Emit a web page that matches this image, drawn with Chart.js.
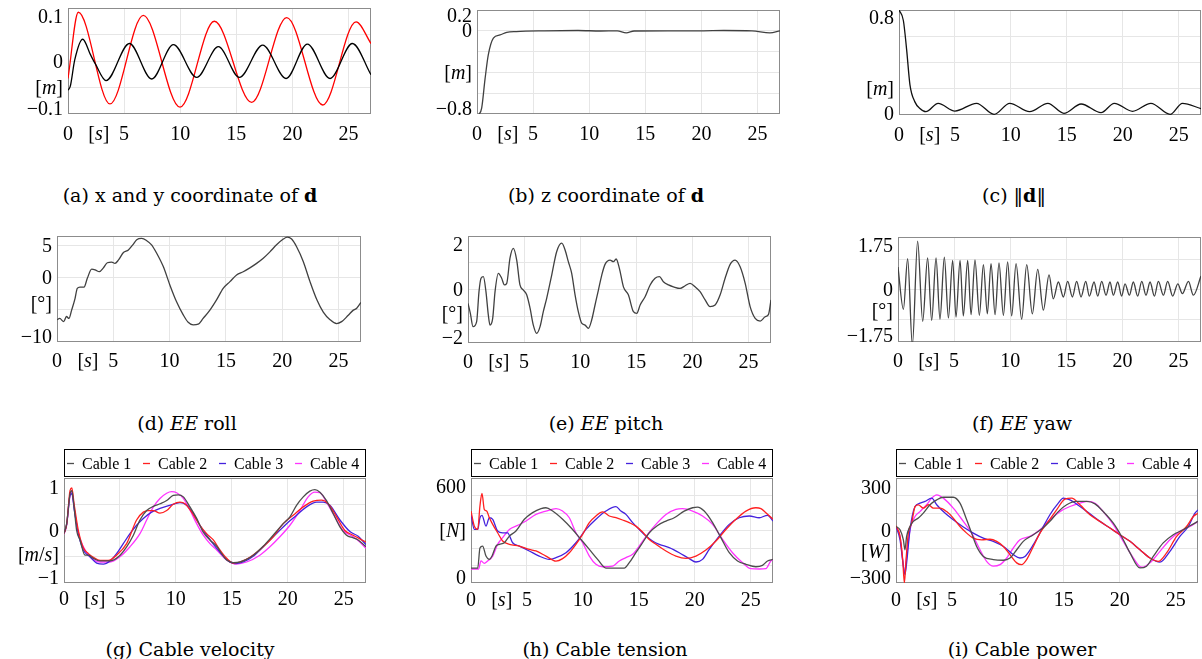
<!DOCTYPE html>
<html>
<head>
<meta charset="utf-8">
<script src="https://cdn.jsdelivr.net/npm/chart.js@4.4.1/dist/chart.umd.min.js"></script>
<style>
  html, body { margin: 0; padding: 0; background: #fff; }
  #page { position: relative; width: 1202px; height: 659px; overflow: hidden; }
  #page canvas { position: absolute; left: 0; top: 0; }
  .cap { position: absolute; transform: translate(-50%, -50%); font-family: "DejaVu Serif", serif;
         font-size: 19px; white-space: nowrap; color: #000; }
</style>
</head>
<body>
<div id="page">
  <div class="cap" style="left:190px;top:195px">(a) x and y coordinate of <b>d</b></div>
  <div class="cap" style="left:606px;top:195px">(b) z coordinate of <b>d</b></div>
  <div class="cap" style="left:1014px;top:195px">(c) ‖<b>d</b>‖</div>
  <div class="cap" style="left:187px;top:423px">(d) <i>EE</i> roll</div>
  <div class="cap" style="left:606px;top:423px">(e) <i>EE</i> pitch</div>
  <div class="cap" style="left:1022px;top:423px">(f) <i>EE</i> yaw</div>
  <div class="cap" style="left:190px;top:649px">(g) Cable velocity</div>
  <div class="cap" style="left:605px;top:649px">(h) Cable tension</div>
  <div class="cap" style="left:1022px;top:649px">(i) Cable power</div>
</div>
<script>
// ---- shared axis values ----
const xTicks = [0, 5, 10, 15, 20, 25];
const xGrid = [5, 10, 15, 20, 25];
const cableLabels = ['Cable 1', 'Cable 2', 'Cable 3', 'Cable 4'];

// (a) x and y coordinate of d
const aYTicks = [-0.1, 0, 0.1];
const aT1 = [0, 0.2, 0.6, 1.31, 2.0, 2.45, 3.39, 5.47, 7.46, 9.39, 11.47, 13.4, 15.27, 17.35, 19.43, 21.33, 23.35, 25.34, 27];
const aV1 = [-0.055, -0.048, 0.002, 0.041, 0.012, -0.006, -0.037, 0.033, -0.034, 0.031, -0.031, 0.027, -0.031, 0.030, -0.033, 0.032, -0.033, 0.033, -0.026];
const aT2 = [0, 0.92, 3.74, 6.71, 9.98, 13.04, 16.37, 19.49, 22.7, 25.67, 27];
const aV2 = [-0.033, 0.092, -0.081, 0.086, -0.087, 0.075, -0.078, 0.082, -0.083, 0.074, 0.033];

// (b) z coordinate of d
const bYTicks = [-0.8, 0, 0.2];
const bT = [0, 0.12, 0.42, 0.72, 1.01, 1.46, 2.05, 2.65, 3.5, 6, 9, 11, 12.5, 13.3, 14, 17, 20, 22, 24.5, 26.1, 27];
const bZ = [-0.82, -0.81, -0.74, -0.46, -0.23, -0.07, -0.04, -0.015, -0.007, 0.0, 0.003, -0.002, 0.0, -0.02, -0.002, 0.0, 0.0, 0.003, 0.0, -0.02, 0.0];

// (c) norm of d
const cYTicks = [0, 0.8];
const cT = [0, 0.39, 0.68, 0.98, 1.42, 1.87, 2.40, 3.5, 5.0, 6.93, 8.5, 9.9, 11.68, 13.31, 14.74, 16.28, 18.06, 19.25, 20.88, 22.52, 24.24, 25.34, 27];
const cD = [0.8, 0.72, 0.5, 0.23, 0.10, 0.05, 0.025, 0.089, 0.03, 0.089, 0.005, 0.089, 0.025, 0.089, 0.013, 0.084, 0.018, 0.089, 0.028, 0.089, 0.005, 0.089, 0.048];

// (d) EE roll
const dYTicks = [-10, 0, 5];
const dT = [0, 0.24, 0.6, 0.84, 1.06, 1.3, 1.6, 1.8, 2.04, 2.4, 2.7, 3.08, 3.38, 3.76, 4.12, 4.47, 4.86, 5.15, 5.45, 5.9,
  6.34, 6.73, 7.08, 7.52, 7.97, 8.4, 8.85, 9.44, 10.03, 10.62, 11.2, 11.65, 12.1, 12.54, 12.98, 13.58, 14.17, 14.76, 15.36, 15.95,
  16.54, 17.13, 17.73, 18.32, 18.91, 19.5, 20.1, 20.45, 20.84, 21.28, 21.87, 22.47, 23.06, 23.65, 24.25, 24.84, 25.28, 25.87, 26.32, 26.62, 27];
const dRoll = [-6.6, -6.4, -6.9, -6.1, -6.4, -5.1, -3.3, -1.7, -1.5, -1.5, -0.1, 1.3, 1.2, 0.9, 1.5, 2.3, 2.4, 2.2, 2.7, 3.9,
  4.3, 5.1, 5.9, 6.1, 5.75, 5.1, 3.8, 1.7, -1.2, -3.8, -5.8, -7.0, -7.4, -7.3, -6.4, -5.1, -3.5, -1.7, -0.65, 0.4,
  0.9, 1.5, 2.2, 3.0, 4.0, 5.1, 6.0, 6.3, 6.0, 4.8, 2.5, -0.65, -3.4, -5.4, -6.6, -7.2, -6.9, -5.9, -5.1, -4.8, -3.9];

// (e) EE pitch
const eYTicks = [-2, 0, 2];
const eT = [0, 0.21, 0.45, 0.77, 0.98, 1.16, 1.37, 1.6, 1.81, 1.96, 2.2, 2.41, 2.7, 3.0, 3.24, 3.45, 3.74, 4.04, 4.34, 4.63,
  4.93, 5.23, 5.53, 5.82, 6.12, 6.42, 6.71, 7.01, 7.46, 7.9, 8.35, 8.65, 8.94, 9.24, 9.54, 9.83, 10.13, 10.43, 10.73, 11.02,
  11.32, 11.62, 11.92, 12.21, 12.66, 12.96, 13.2, 13.49, 13.85, 14.29, 14.74, 15.04, 15.34, 15.78, 16.23, 16.67, 17.06, 17.41, 17.86, 18.31,
  18.9, 19.35, 19.79, 20.24, 20.68, 21.13, 21.57, 22.02, 22.47, 22.91, 23.36, 23.8, 24.25, 24.7, 25.14, 25.59, 26.04, 26.48, 26.78, 27];
const ePitch = [-0.52, -0.89, -1.39, -1.2, -0.08, 0.42, 0.48, -0.08, -0.95, -1.33, -1.08, -0.08, 0.6, 0.42, 0.17, 0.23, 1.17, 1.54, 1.1, 0.17,
  -0.02, -0.2, -0.7, -1.33, -1.64, -1.39, -0.83, -0.33, 0.54, 1.41, 1.73, 1.48, 1.04, 0.6, -0.2, -0.83, -1.26, -1.33, -1.45, -1.14,
  -0.58, -0.02, 0.54, 0.94, 1.1, 1.04, 1.14, 0.79, 0.1, -0.2, -0.83, -0.89, -0.58, -0.27, 0.17, 0.42, 0.48, 0.29, 0.17, 0.1,
  0.04, 0.14, 0.23, 0.1, -0.08, -0.39, -0.64, -0.58, -0.2, 0.42, 0.94, 1.1, 0.85, 0.23, -0.64, -1.08, -1.18, -1.02, -0.93, -0.39];

// (f) EE yaw (peaks and troughs)
const fYTicks = [-1.75, 0, 1.75];
const fT = [0, 0.48, 0.86, 1.28, 1.75, 2.20, 2.64, 3.0, 3.39, 3.74, 4.13, 4.49, 4.87, 5.17, 5.53, 5.82, 6.21, 6.51, 6.86, 7.25,
  7.61, 7.96, 8.29, 8.65, 9.0, 9.39, 9.77, 10.13, 10.52, 11.02, 11.47, 11.97, 12.45, 12.95, 13.46, 13.84, 14.29, 14.74, 15.12, 15.54,
  15.92, 16.31, 16.73, 17.05, 17.47, 17.80, 18.15, 18.54, 18.89, 19.19, 19.58, 19.93, 20.23, 20.62, 20.97, 21.36, 21.72, 22.10, 22.46, 22.85,
  23.20, 23.65, 24.03, 24.48, 24.93, 25.34, 25.88, 26.32, 27];
const fYaw = [0.75, -0.66, 1.03, -1.85, 1.61, -1.06, 1.05, -1.03, 1.05, -0.99, 1.08, -0.95, 0.97, -0.92, 0.97, -0.88, 0.97, -0.84, 0.99, -0.86,
  0.83, -0.81, 0.86, -0.84, 0.89, -0.86, 0.92, -0.88, 0.86, -0.99, 0.83, -0.81, 0.67, -0.69, 0.49, -0.31, 0.25, -0.25, 0.27, -0.25,
  0.27, -0.25, 0.27, -0.22, 0.25, -0.22, 0.27, -0.19, 0.25, -0.19, 0.25, -0.22, 0.19, -0.19, 0.25, -0.22, 0.27, -0.19, 0.25, -0.22,
  0.27, -0.19, 0.27, -0.22, 0.19, -0.14, 0.27, -0.19, 0.45];

// (g) cable velocity
const gYTicks = [-1, 0, 1];
const gT1 = [0, 0.24, 0.54, 0.7, 0.9, 1.13, 1.43, 1.88, 2.18, 2.62, 3.22, 4.11, 4.86, 5.6, 6.2, 6.79, 7.39, 7.99, 8.58, 9.18,
  9.77, 10.22, 10.67, 11.26, 11.86, 12.45, 13.05, 13.65, 14.09, 14.54, 15.13, 15.73, 16.32, 16.92, 17.81, 18.7, 19.6, 20.2, 20.79, 21.39,
  21.98, 22.43, 22.88, 23.47, 24.07, 24.67, 25.26, 25.86, 26.3, 27];
const gV1 = [-0.06, 0.13, 0.70, 0.76, 0.45, 0.0, -0.18, -0.47, -0.47, -0.53, -0.58, -0.58, -0.50, -0.31, -0.09, 0.2, 0.38, 0.46, 0.51, 0.57,
  0.67, 0.68, 0.64, 0.45, 0.23, -0.03, -0.18, -0.30, -0.44, -0.56, -0.61, -0.60, -0.55, -0.47, -0.30, -0.09, 0.13, 0.26, 0.48, 0.64,
  0.75, 0.78, 0.73, 0.57, 0.32, 0.07, -0.09, -0.14, -0.18, -0.31];
const gT2 = [0, 0.24, 0.54, 0.70, 0.9, 1.28, 1.73, 2.18, 2.62, 3.22, 3.96, 4.7, 5.6, 6.49, 7.09, 7.54, 7.99, 8.58, 9.18, 9.77,
  10.37, 10.82, 11.41, 12.15, 12.75, 13.35, 13.94, 14.54, 15.13, 15.73, 16.62, 17.81, 18.7, 19.6, 20.49, 21.39, 22.28, 23.02, 23.62, 24.37,
  25.11, 25.86, 26.45, 27];
const gV2 = [-0.06, 0.12, 0.76, 0.81, 0.51, 0.0, -0.33, -0.44, -0.51, -0.57, -0.57, -0.47, -0.25, 0.2, 0.35, 0.38, 0.38, 0.33, 0.38, 0.5,
  0.54, 0.51, 0.35, 0.10, -0.06, -0.18, -0.37, -0.53, -0.62, -0.60, -0.51, -0.31, -0.12, 0.13, 0.29, 0.45, 0.56, 0.58, 0.51, 0.26,
  0.0, -0.09, -0.16, -0.22];
const gT3 = [0, 0.24, 0.54, 0.70, 0.93, 1.28, 1.73, 2.32, 2.92, 3.52, 4.11, 4.7, 5.3, 5.9, 6.49, 7.09, 7.83, 8.58, 9.47, 10.37,
  10.96, 11.56, 12.15, 12.75, 13.65, 14.54, 15.28, 16.02, 16.92, 17.81, 19.0, 19.9, 20.79, 21.68, 22.58, 23.17, 23.77, 24.67, 25.56, 26.3, 27];
const gV3 = [-0.05, 0.12, 0.67, 0.70, 0.38, -0.06, -0.37, -0.5, -0.62, -0.64, -0.58, -0.44, -0.25, -0.06, 0.1, 0.23, 0.35, 0.42, 0.48, 0.53,
  0.48, 0.32, 0.1, -0.09, -0.34, -0.55, -0.63, -0.6, -0.49, -0.31, -0.06, 0.13, 0.29, 0.45, 0.54, 0.54, 0.48, 0.2, -0.02, -0.11, -0.27];
const gT4 = [0, 0.24, 0.54, 0.70, 0.9, 1.22, 1.73, 2.32, 3.22, 4.11, 5.0, 5.9, 6.79, 7.39, 7.99, 8.58, 9.18, 9.62, 10.07, 10.67,
  11.26, 11.86, 12.45, 13.05, 13.65, 14.54, 15.43, 16.32, 17.51, 18.41, 19.3, 20.2, 21.09, 21.83, 22.43, 22.88, 23.47, 24.22, 24.96, 25.86,
  26.45, 27];
const gV4 = [-0.07, 0.1, 0.67, 0.73, 0.45, 0.0, -0.31, -0.5, -0.6, -0.6, -0.5, -0.31, -0.06, 0.2, 0.45, 0.61, 0.71, 0.74, 0.72, 0.61,
  0.39, 0.13, -0.09, -0.25, -0.37, -0.56, -0.64, -0.6, -0.47, -0.31, -0.12, 0.1, 0.38, 0.64, 0.73, 0.72, 0.54, 0.26, 0.0, -0.12,
  -0.22, -0.34];

// (h) cable tension
const hYTicks = [0, 600];
const hT1 = [0, 0.6, 0.8, 1.04, 1.34, 1.64, 1.88, 2.23, 2.53, 2.98, 3.43, 4.02, 4.77, 5.51, 6.26, 6.7, 7.3, 8.19, 9.08, 9.83,
  10.58, 11.32, 12.06, 13.7, 14.15, 14.74, 15.34, 15.94, 16.68, 17.43, 18.17, 19.06, 19.81, 20.26, 20.85, 21.6, 22.34, 23.09, 23.83, 24.58,
  25.47, 26.06, 26.51, 27];
const hN1 = [85, 85, 200, 211, 154, 135, 154, 211, 221, 230, 268, 297, 364, 402, 425, 430, 411, 364, 306, 249,
  192, 135, 85, 85, 116, 173, 230, 287, 329, 354, 373, 411, 430, 434, 411, 345, 259, 173, 126, 107,
  93, 101, 126, 135];
const hT2 = [0, 0.3, 0.6, 0.8, 0.98, 1.19, 1.4, 1.64, 1.94, 2.38, 2.83, 3.43, 4.32, 5.21, 5.81, 6.7, 7.6, 8.19, 8.79, 9.38,
  9.98, 10.58, 11.17, 11.77, 12.36, 12.96, 13.55, 14.15, 14.74, 15.34, 15.94, 16.53, 17.43, 18.32, 19.22, 20.11, 21.0, 21.9, 22.79, 23.68,
  24.58, 25.47, 25.92, 26.36, 27];
const hN2 = [411, 325, 306, 440, 512, 420, 411, 373, 335, 287, 240, 221, 211, 192, 183, 154, 125, 139, 173, 221,
  278, 345, 383, 406, 383, 373, 360, 345, 325, 291, 249, 221, 183, 154, 141, 154, 188, 240, 306, 364,
  411, 430, 425, 402, 364];
const hT3 = [0, 0.3, 0.6, 0.8, 0.98, 1.34, 1.64, 1.94, 2.38, 2.83, 3.27, 3.72, 4.32, 5.21, 6.1, 7.0, 7.6, 8.49, 9.38, 10.28,
  11.17, 12.06, 12.96, 13.4, 13.85, 14.45, 15.04, 15.64, 16.23, 16.83, 17.72, 18.62, 19.51, 20.11, 20.7, 21.3, 22.19, 23.09, 23.98, 24.88,
  25.77, 26.51, 27];
const hN3 = [392, 306, 306, 373, 387, 325, 373, 364, 297, 287, 287, 230, 211, 183, 154, 135, 145, 173, 230, 306,
  364, 411, 436, 411, 392, 345, 306, 268, 240, 221, 202, 173, 139, 120, 135, 192, 268, 335, 373, 383,
  373, 387, 354];
const hT4 = [0, 0.68, 0.89, 1.19, 1.49, 1.94, 2.38, 2.83, 3.43, 4.17, 4.92, 5.81, 6.7, 7.6, 8.19, 8.79, 9.38, 9.98, 10.58, 11.17,
  11.77, 12.66, 13.26, 13.85, 14.45, 15.04, 15.79, 16.53, 17.43, 18.32, 18.92, 19.81, 20.7, 21.6, 22.49, 23.38, 24.28, 25.02, 25.77, 26.36,
  26.8, 27];
const hN4 = [80, 80, 126, 112, 126, 154, 221, 259, 306, 329, 354, 392, 411, 425, 411, 373, 287, 230, 154, 107,
  93, 97, 126, 145, 164, 211, 278, 335, 392, 421, 425, 411, 383, 335, 249, 173, 116, 82, 80, 82,
  126, 135];

// (i) cable power
const iYTicks = [-300, 0, 300];
const iT1 = [0, 0.36, 0.66, 0.80, 0.95, 1.25, 1.55, 2.0, 2.44, 3.04, 3.64, 4.23, 5.12, 5.72, 6.32, 6.76, 7.21, 7.81, 8.7, 9.6,
  10.19, 10.79, 11.38, 12.28, 13.02, 13.76, 14.51, 15.26, 16.15, 17.04, 17.79, 18.53, 19.43, 20.17, 20.92, 21.81, 22.4, 23.0, 23.89, 24.79,
  25.68, 26.28, 27];
const iP1 = [23, 4, -53, -110, -34, 23, 52, 71, 99, 147, 175, 190, 190, 156, 61, -15, -91, -148, -166, -170,
  -157, -110, -62, -24, 8, 52, 108, 147, 166, 166, 152, 108, 42, -34, -128, -214, -204, -148, -71, -24,
  4, 27, 52];
const iT2 = [0, 0.36, 0.6, 0.75, 0.9, 1.1, 1.4, 1.7, 2.0, 2.44, 2.9, 3.34, 3.94, 4.53, 5.12, 5.72, 6.32, 6.91, 7.66, 8.4,
  9.0, 9.6, 10.19, 10.79, 11.23, 11.68, 12.28, 12.87, 13.62, 14.36, 15.1, 15.7, 16.45, 17.34, 18.23, 19.13, 20.02, 20.92, 21.81, 22.7,
  23.45, 24.19, 25.09, 25.98, 26.58, 27];
const iP2 = [27, -34, -166, -300, -166, -15, 42, 137, 147, 128, 147, 128, 128, 108, 71, 23, -15, -44, -53, -50,
  -62, -91, -138, -185, -195, -166, -91, -15, 52, 118, 179, 185, 147, 90, 52, 14, -24, -62, -110, -157,
  -176, -128, -34, 23, 80, 99];
const iT3 = [0, 0.36, 0.66, 0.8, 0.95, 1.25, 1.7, 2.14, 2.59, 3.19, 3.64, 4.23, 5.12, 6.02, 6.91, 7.81, 8.7, 9.6, 10.49, 11.08,
  11.53, 12.28, 13.02, 13.76, 14.51, 14.95, 15.55, 16.45, 17.34, 18.23, 19.13, 20.02, 20.92, 21.81, 22.7, 23.6, 24.49, 25.38, 26.13, 26.73, 27];
const iP3 = [23, -53, -204, -252, -185, 4, 137, 156, 166, 185, 147, 108, 61, 20, -15, -44, -62, -91, -138, -157,
  -148, -81, 4, 90, 156, 185, 175, 137, 95, 52, 14, -24, -62, -110, -157, -181, -119, -34, 23, 99, 118];
const iT4 = [0, 0.36, 0.66, 0.8, 0.95, 1.25, 1.7, 2.14, 2.74, 3.19, 3.64, 4.23, 5.12, 6.02, 6.76, 7.51, 8.1, 8.7, 9.3, 9.9,
  10.49, 11.08, 11.98, 12.87, 13.76, 14.66, 15.55, 16.45, 17.19, 17.79, 18.53, 19.43, 20.32, 21.22, 21.96, 22.7, 23.6, 24.49, 25.38, 26.28, 27];
const iP4 = [19, -34, -204, -242, -148, 4, 80, 108, 147, 185, 204, 185, 128, 52, -15, -110, -176, -204, -195, -157,
  -100, -53, -34, 4, 61, 108, 137, 156, 166, 156, 108, 33, -62, -157, -210, -185, -119, -53, -5, 23, 52];

// ---- styling ----
const W = 1202, H = 659;
const gridColor = '#e6e6e6';
const frameColor = '#8c8c8c';
const dark = '#404040';
const cableColors = ['#4d4d4d', '#ff2020', '#4422dd', '#ff33ff'];
const TICK_PX = 20;

function fmt(v) { return v < 0 ? '\u2212' + String(-v) : String(v); }

// draws text with latin letters in italic (math style units), digits/brackets upright
function drawMath(ctx, str, x, y, align) {
  const runs = [];
  for (const ch of str) {
    const it = /[A-Za-z]/.test(ch);
    if (runs.length && runs[runs.length - 1][1] === it) runs[runs.length - 1][0] += ch;
    else runs.push([ch, it]);
  }
  const fonts = runs.map(r => (r[1] ? 'italic ' : '') + TICK_PX + 'px "Liberation Serif", serif');
  const widths = runs.map((r, i) => { ctx.font = fonts[i]; return ctx.measureText(r[0]).width; });
  const total = widths.reduce((s, w) => s + w, 0);
  let cx = align === 'right' ? x - total : x - total / 2;
  ctx.textAlign = 'left';
  ctx.textBaseline = 'alphabetic';
  ctx.fillStyle = '#000';
  runs.forEach((r, i) => { ctx.font = fonts[i]; ctx.fillText(r[0], cx, y); cx += widths[i]; });
}

function framePlugin(cfg) {
  return {
    id: 'frame',
    beforeDatasetsDraw(chart) {
      const { ctx, chartArea: a } = chart;
      ctx.save();
      ctx.strokeStyle = frameColor;
      ctx.lineWidth = 1;
      ctx.strokeRect(Math.round(a.left) + 0.5, Math.round(a.top) + 0.5,
        Math.round(a.right - a.left) - 1, Math.round(a.bottom - a.top) - 1);
      ctx.restore();
    },
    afterDraw(chart) {
      const { ctx, chartArea: a, scales } = chart;
      ctx.save();
      // y tick labels, kept inside the box vertically
      cfg.yTicks.forEach(v => {
        let py = scales.y.getPixelForValue(v);
        py = Math.min(Math.max(py, a.top + cfg.clampT), a.bottom - cfg.clampB);
        drawMath(ctx, fmt(v), a.left - 5, py + 6.5, 'right');
      });
      drawMath(ctx, cfg.unit, a.left - 5, scales.y.getPixelForValue(cfg.unitAt) + 6.5, 'right');
      // x tick labels
      const ly = a.bottom + cfg.xOff + 6.5;
      xTicks.forEach(v => drawMath(ctx, fmt(v), scales.x.getPixelForValue(v), ly, 'center'));
      drawMath(ctx, '[s]', scales.x.getPixelForValue(2.75), ly, 'center');
      // legend box above the plot
      if (cfg.legend) {
        const top = Math.round(a.top) - 29, h = 27;
        const left = Math.round(a.left), w = Math.round(a.right - a.left);
        ctx.fillStyle = '#fff';
        ctx.fillRect(left, top, w, h);
        ctx.strokeStyle = '#000';
        ctx.lineWidth = 1;
        ctx.strokeRect(left + 0.5, top + 0.5, w - 1, h);
        chart.data.datasets.forEach((ds, i) => {
          const x0 = left + 2 + i * 76;
          const my = top + 14.5;
          ctx.strokeStyle = ds.borderColor;
          ctx.lineWidth = 1.3;
          ctx.beginPath();
          ctx.moveTo(x0 + 1, my);
          ctx.lineTo(x0 + 8, my);
          ctx.stroke();
          ctx.fillStyle = '#000';
          ctx.font = '16px "Liberation Serif", serif';
          ctx.textAlign = 'left';
          ctx.textBaseline = 'alphabetic';
          ctx.fillText(ds.label, x0 + 16, my + 5.5);
        });
      }
      ctx.restore();
    }
  };
}

function series(t, v) { return t.map((x, i) => ({ x: x, y: v[i] })); }

function makePanel(cfg) {
  const canvas = document.createElement('canvas');
  canvas.width = W;
  canvas.height = H;
  document.getElementById('page').appendChild(canvas);
  const [l, t, r, b] = cfg.box;
  new Chart(canvas, {
    type: 'line',
    data: {
      datasets: cfg.sets.map(s => ({
        label: s.label || '',
        data: series(s.t, s.v),
        borderColor: s.color,
        backgroundColor: s.color,
        borderWidth: 1.3,
        pointRadius: 0,
        fill: false,
        cubicInterpolationMode: 'monotone'
      }))
    },
    options: {
      responsive: false,
      animation: false,
      events: [],
      layout: { padding: { left: l, top: t, right: W - r, bottom: H - b } },
      plugins: { legend: { display: false }, tooltip: { enabled: false } },
      scales: {
        x: {
          type: 'linear', min: 0, max: 27,
          grid: { color: gridColor, drawTicks: false },
          border: { display: false },
          ticks: { display: false },
          afterBuildTicks: s => { s.ticks = xGrid.map(v => ({ value: v })); }
        },
        y: {
          type: 'linear', min: cfg.y[0], max: cfg.y[1],
          grid: { color: gridColor, drawTicks: false },
          border: { display: false },
          ticks: { display: false },
          afterBuildTicks: s => { s.ticks = cfg.grid.map(v => ({ value: v })); }
        }
      }
    },
    plugins: [framePlugin(cfg)]
  });
}

const cables = (tt, vv) => tt.map((t, i) => ({ t: t, v: vv[i], color: cableColors[i], label: cableLabels[i] }));

const panels = [
  { box: [68, 8, 371, 114], y: [-0.1, 0.1], grid: [-0.05, 0, 0.05], yTicks: aYTicks, unit: '[m]', unitAt: -0.05,
    xOff: 19, clampT: 8, clampB: 6,
    sets: [{ t: aT1, v: aV1, color: '#000' }, { t: aT2, v: aV2, color: '#ff0000' }] },
  { box: [477, 10, 780, 114], y: [-0.8, 0.2], grid: [-0.6, -0.4, -0.2, 0], yTicks: bYTicks, unit: '[m]', unitAt: -0.4,
    xOff: 19, clampT: 5, clampB: 6,
    sets: [{ t: bT, v: bZ, color: dark }] },
  { box: [899, 10, 1201, 115], y: [0, 0.8], grid: [0.2, 0.4, 0.6], yTicks: cYTicks, unit: '[m]', unitAt: 0.2,
    xOff: 19, clampT: 7, clampB: 2,
    sets: [{ t: cT, v: cD, color: '#111' }] },
  { box: [57, 236, 361, 342], y: [-10.08, 6.48], grid: [-5, 0, 5], yTicks: dYTicks, unit: '[°]', unitAt: -4,
    xOff: 18, clampT: 8, clampB: 6,
    sets: [{ t: dT, v: dRoll, color: dark }] },
  { box: [468, 236, 771, 343], y: [-2, 2], grid: [-1, 0, 1], yTicks: eYTicks, unit: '[°]', unitAt: -0.9,
    xOff: 18, clampT: 8, clampB: 6,
    sets: [{ t: eT, v: ePitch, color: dark }] },
  { box: [898, 237, 1201, 342], y: [-1.75, 1.75], grid: [-1, 0, 1], yTicks: fYTicks, unit: '[°]', unitAt: -0.7,
    xOff: 18, clampT: 8, clampB: 7,
    sets: [{ t: fT, v: fYaw, color: dark }] },
  { box: [64, 478, 366, 583], y: [-1, 1], grid: [-0.5, 0, 0.5], yTicks: gYTicks, unit: '[m/s]', unitAt: -0.45,
    xOff: 15, clampT: 9, clampB: 6, legend: true,
    sets: cables([gT1, gT2, gT3, gT4], [gV1, gV2, gV3, gV4]) },
  { box: [471, 478, 773, 583], y: [0, 600], grid: [100, 200, 300, 400, 500], yTicks: hYTicks, unit: '[N]', unitAt: 300,
    xOff: 16, clampT: 8, clampB: 6, legend: true,
    sets: cables([hT1, hT2, hT3, hT4], [hN1, hN2, hN3, hN4]) },
  { box: [896, 478, 1198, 583], y: [-300, 300], grid: [-200, -100, 0, 100, 200], yTicks: iYTicks, unit: '[W]', unitAt: -120,
    xOff: 16, clampT: 9, clampB: 6, legend: true,
    sets: cables([iT1, iT2, iT3, iT4], [iP1, iP2, iP3, iP4]) }
];

panels.forEach(makePanel);
</script>
</body>
</html>
